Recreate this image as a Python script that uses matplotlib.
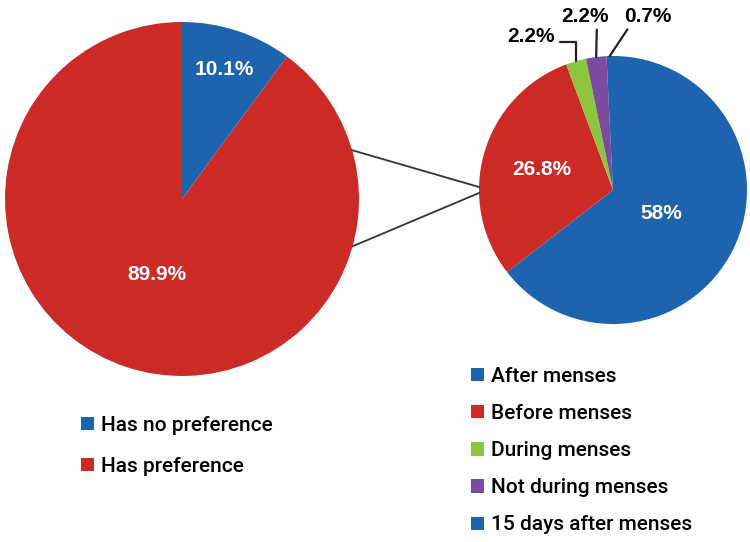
import matplotlib
matplotlib.use("Agg")
import matplotlib.pyplot as plt
import numpy as np

# ---- data ----
main_labels = ["Has no preference", "Has preference"]
main_values = [10.1, 89.9]
sub_labels = ["After menses", "Before menses", "During menses",
              "Not during menses", "15 days after menses"]
sub_values = [58, 26.8, 2.2, 2.2, 0.7]

BLUE = "#1d63ad"
RED = "#cb2a27"
GREEN = "#8cc63f"
PURPLE = "#7a4b9f"
main_colors = [BLUE, RED]
sub_colors = [BLUE, RED, GREEN, PURPLE, BLUE]

plt.rcParams['font.family'] = ['Liberation Sans', 'DejaVu Sans']

W, H = 750, 542
fig = plt.figure(figsize=(7.5, 5.42), dpi=100)
ax = fig.add_axes([0, 0, 1, 1])
ax.set_xlim(0, W)
ax.set_ylim(0, H)
ax.set_aspect('equal')
ax.axis('off')

def py(y):
    return H - y

c1 = (182, py(199)); r1 = 177
c2 = (613, py(190)); r2 = 134

w1, _ = ax.pie(main_values, colors=main_colors, startangle=90, counterclock=False,
               center=c1, radius=r1, wedgeprops=dict(linewidth=0))
w2, _ = ax.pie(sub_values, colors=sub_colors, startangle=90, counterclock=False,
               center=c2, radius=r2, wedgeprops=dict(linewidth=0))
ax.set_xlim(0, W)
ax.set_ylim(0, H)

def fmt(v):
    return f"{v:g}%"

def mid(w):
    return np.deg2rad((w.theta1 + w.theta2) / 2)

# inside labels
for w, v, d in zip(w1, main_values, [0.77, 0.45]):
    a = mid(w)
    ax.text(c1[0] + d * r1 * np.cos(a), c1[1] + d * r1 * np.sin(a), fmt(v),
            color="white", fontsize=15, fontweight="bold", ha="center", va="center")
for w, v, d in zip(w2[:2], sub_values[:2], [0.40, 0.55]):
    a = mid(w)
    ax.text(c2[0] + d * r2 * np.cos(a), c2[1] + d * r2 * np.sin(a), fmt(v),
            color="white", fontsize=15, fontweight="bold", ha="center", va="center")

# outside labels with leader lines
def edge(w):
    a = mid(w)
    return (c2[0] + r2 * np.cos(a), c2[1] + r2 * np.sin(a))

lc = "#222222"
ax.annotate(fmt(sub_values[2]), xy=edge(w2[2]), xytext=(531, py(36)),
            fontsize=15, fontweight="bold", ha="center", va="center",
            arrowprops=dict(arrowstyle='-', color=lc, lw=1.6, shrinkA=2, shrinkB=0,
                            relpos=(1.0, 0.2),
                            connectionstyle="angle,angleA=0,angleB=90,rad=0"))
ax.annotate(fmt(sub_values[3]), xy=edge(w2[3]), xytext=(585, py(16)),
            fontsize=15, fontweight="bold", ha="center", va="center",
            arrowprops=dict(arrowstyle='-', color=lc, lw=1.6, shrinkA=1, shrinkB=0,
                            relpos=(0.75, 0.0)))
ax.annotate(fmt(sub_values[4]), xy=edge(w2[4]), xytext=(648, py(16)),
            fontsize=15, fontweight="bold", ha="center", va="center",
            arrowprops=dict(arrowstyle='-', color=lc, lw=1.6, shrinkA=1, shrinkB=0,
                            relpos=(0.12, 0.0)))

# connector lines between pies
for ang in [16, -15.5]:
    a = np.deg2rad(ang)
    x0 = c1[0] + r1 * np.cos(a); y0 = c1[1] + r1 * np.sin(a)
    x1 = c2[0] - r2; y1 = c2[1] + (3 if ang > 0 else -3)
    ax.plot([x0, x1], [y0, y1], color="#333333", lw=1.3)

# legends
lprop = dict(family=['Roboto', 'Liberation Sans', 'DejaVu Sans'], weight='medium', size=15)
leg1 = ax.legend(w1, main_labels, loc="upper left",
                 bbox_to_anchor=(81, py(416)), bbox_transform=ax.transData,
                 frameon=False, prop=lprop, handlelength=0.6, handleheight=0.6,
                 handletextpad=0.35, labelspacing=1.04, borderpad=0, borderaxespad=0)
ax.add_artist(leg1)
leg2 = ax.legend(w2, sub_labels, loc="upper left",
                 bbox_to_anchor=(471, py(367)), bbox_transform=ax.transData,
                 frameon=False, prop=lprop, handlelength=0.6, handleheight=0.6,
                 handletextpad=0.35, labelspacing=0.87, borderpad=0, borderaxespad=0)

fig.savefig("out.png", dpi=100)
